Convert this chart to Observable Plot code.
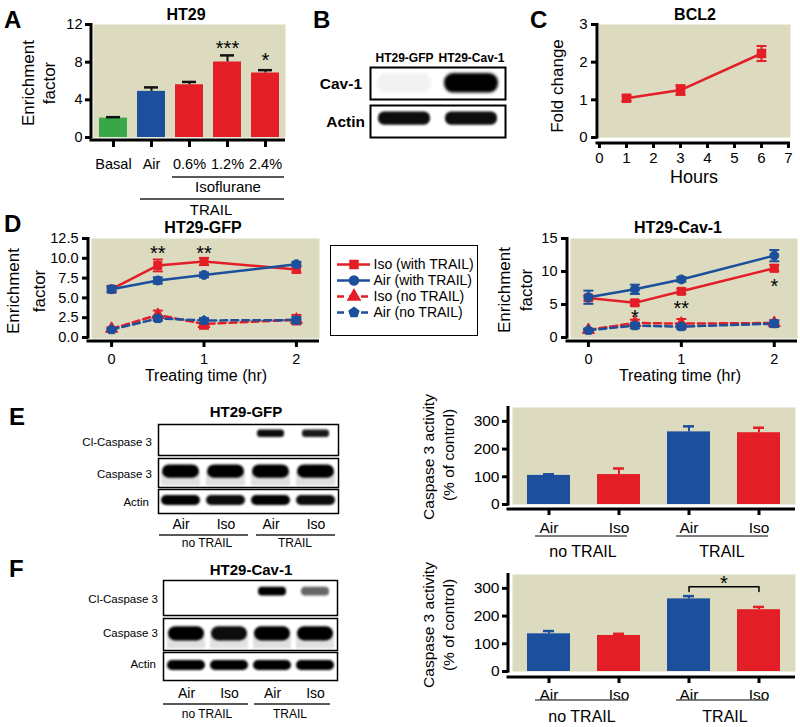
<!DOCTYPE html>
<html><head><meta charset="utf-8">
<script src="https://cdn.jsdelivr.net/npm/d3@7"></script>
<script src="https://cdn.jsdelivr.net/npm/@observablehq/plot@0.6"></script>
<style>
html,body{margin:0;padding:0;background:#fff;}
#fig{position:relative;width:800px;height:727px;overflow:hidden;background:#fff;}
#fig svg{position:absolute;}
</style></head><body><div id="fig"></div>
<script>
const FONT = '"Liberation Sans", Arial, Helvetica, sans-serif';
const BG = "#dcdbc0", RED = "#e31e26", BLUE = "#1c4f9c", GREEN = "#3aa64a";

// ---------- Panel A : HT29 enrichment factor
const aCategories = ["Basal", "Air", "0.6%", "1.2%", "2.4%"];
const aGroups = ["Basal", "Air", "Iso", "Iso", "Iso"];
const aValues = [2.06, 4.9, 5.6, 8.02, 6.85];
const aErrors = [0.1, 0.42, 0.3, 0.7, 0.3];
const aStarCats = ["1.2%", "2.4%"];
const aStarY = [9.98, 8.7];
const aStarText = ["***", "*"];
const aYTicks = [0, 4, 8, 12];

// ---------- Panel B : blot
const bLanes = ["HT29-GFP", "HT29-Cav-1"];
const bRows = ["Cav-1", "Actin"];
const bCav1 = [0.05, 1.0];
const bActin = [0.95, 0.95];

// ---------- Panel C : BCL2
const cHours = [1, 3, 6];
const cFold = [1.04, 1.26, 2.23];
const cErr = [0.07, 0.13, 0.2];
const cXTicks = [0, 1, 2, 3, 4, 5, 6, 7];
const cYTicks = [0, 1, 2, 3];

// ---------- Panel D
const dTimes = [0, 0.5, 1, 2];
const dSeriesNames = ["Iso (with TRAIL)", "Air (with TRAIL)", "Iso (no TRAIL)", "Air (no TRAIL)"];
const gfpIsoTrail = [6.1, 9.1, 9.6, 8.6];
const gfpIsoTrailErr = [0.3, 0.75, 0.45, 0.4];
const gfpAirTrail = [6.1, 7.2, 7.9, 9.25];
const gfpAirTrailErr = [0.4, 0.4, 0.3, 0.3];
const gfpIsoNo = [1.1, 2.85, 1.7, 2.25];
const gfpIsoNoErr = [0.2, 0.55, 0.6, 0.6];
const gfpAirNo = [1.0, 2.4, 2.15, 2.2];
const gfpAirNoErr = [0.15, 0.3, 0.3, 0.4];
const gfpStarT = [0.5, 1];
const gfpStarY = [11.2, 11.2];
const gfpStarText = ["**", "**"];
const gfpYTicks = [0, 2.5, 5, 7.5, 10, 12.5];

const cavIsoTrail = [6.0, 5.25, 7.0, 10.5];
const cavIsoTrailErr = [0.4, 0.4, 0.4, 0.5];
const cavAirTrail = [6.1, 7.3, 8.8, 12.4];
const cavAirTrailErr = [1.0, 0.7, 0.35, 0.85];
const cavIsoNo = [1.15, 2.2, 2.1, 2.2];
const cavIsoNoErr = [0.2, 0.5, 0.7, 0.4];
const cavAirNo = [1.1, 1.8, 1.65, 2.1];
const cavAirNoErr = [0.2, 0.4, 0.4, 0.5];
const cavStarT = [0.5, 1, 2];
const cavStarY = [3.8, 5.15, 8.5];
const cavStarText = ["*", "**", "*"];
const cavYTicks = [0, 5, 10, 15];
const dXTicks = [0, 1, 2];

// ---------- Panels E / F
const eLanes = ["Air (no TRAIL)", "Iso (no TRAIL)", "Air (TRAIL)", "Iso (TRAIL)"];
const blotRowNames = ["Cl-Caspase 3", "Caspase 3", "Actin"];
const eCl = [0, 0, 0.95, 0.9];
const eCasp = [1, 1, 1, 1];
const eActin = [1, 0.95, 1, 0.95];
const fCl = [0, 0, 1, 0.6];
const fCasp = [1, 0.95, 1, 1];
const fActin = [1, 1, 1, 1];
const eActivity = [105, 108, 262, 259];
const eActivityErr = [4, 22, 20, 18];
const fActivity = [136, 130, 262, 223];
const fActivityErr = [10, 6, 10, 10];
const casYTicks = [0, 100, 200, 300];
const fBracketLanes = ["Air (TRAIL)", "Air (TRAIL)", "Iso (TRAIL)", "Iso (TRAIL)"];
const fBracketLevels = [289, 306, 306, 289];
const fStarY = [336];
const groupLabels = ["no TRAIL", "TRAIL"];

// ================= helpers
const fig = document.getElementById("fig");
function place(node, left, top) { node.style.left = left + "px"; node.style.top = top + "px"; fig.appendChild(node); return node; }
function st(size, extra = {}) { return Object.assign({fontFamily: FONT, fontSize: size + "px", color: "#000", background: "transparent", overflow: "visible"}, extra); }
const capSym = {draw(ctx, size) { const w = Math.sqrt(size / Math.PI); ctx.moveTo(-w, 0); ctx.lineTo(w, 0); }};
const pentSym = {draw(ctx, size) {
  const r = Math.sqrt(size / Math.PI) * 1.2;
  for (let i = 0; i < 5; i++) { const a = -Math.PI / 2 + i * 2 * Math.PI / 5; const x = r * Math.cos(a), y = r * Math.sin(a); if (i) ctx.lineTo(x, y); else ctx.moveTo(x, y); }
  ctx.closePath();
}};
const intFmt = d3.format("d");
// thick offset axis lines (GraphPad style)
function axisLines(inY, w = 3) {
  return (index, scales, values, dims) => {
    const {width, height, marginLeft, marginRight, marginTop, marginBottom} = dims;
    const g = d3.create("svg:g").attr("stroke", "#000").attr("stroke-width", w);
    const yb = height - marginBottom;
    g.append("line").attr("x1", marginLeft).attr("x2", marginLeft).attr("y1", marginTop - 1).attr("y2", yb - inY + 1.5);
    g.append("line").attr("x1", marginLeft - 1.5).attr("x2", width - marginRight).attr("y1", yb).attr("y2", yb);
    return g.node();
  };
}
const gasColor = k => (k.startsWith("Air") ? BLUE : k.startsWith("Basal") ? GREEN : RED);

// ================= Panel A
{
  const rows = aCategories.map((k, i) => ({k, g: aGroups[i], v: aValues[i], e: aErrors[i]}));
  const stars = aStarCats.map((k, i) => ({k, y: aStarY[i], s: aStarText[i]}));
  const inY = 3, inX = 3;
  const svg = Plot.plot({
    width: 290, height: 180, marginLeft: 91, marginRight: 5, marginTop: 24, marginBottom: 40,
    style: st(14.5),
    x: {domain: aCategories, paddingInner: 0.26, paddingOuter: 0.13, insetLeft: inX},
    y: {domain: [0, 12], insetBottom: inY},
    color: {type: "identity"},
    marks: [
      Plot.frame({fill: BG, stroke: null, insetLeft: 2, insetBottom: inY}),
      Plot.barY(rows, {x: "k", y: "v", fill: d => gasColor(d.g)}),
      Plot.ruleX(rows, {x: "k", y1: "v", y2: d => d.v + d.e, stroke: "#111", strokeWidth: 2}),
      Plot.tickY(rows, {x: "k", y: d => d.v + d.e, stroke: "#111", strokeWidth: 2.5, inset: 7}),
      Plot.text(stars, {x: "k", y: "y", text: "s", fontSize: 20, dy: 5}),
      Plot.axisY({ticks: aYTicks, tickFormat: intFmt, tickSize: 6, tickPadding: 3, strokeWidth: 3, label: null}),
      Plot.axisX({tickSize: 7, tickPadding: 11, strokeWidth: 3, label: null}),
      axisLines(inY)
    ]
  });
  place(svg, 0, 0);
}

// ================= blots
let uid = 0;
function blotRow({left, boxTop, boxH, width, lanes, levels, y1, y2, inset, rx = 5, blur = 1.2, mT = 0, mB = 0, axis = null, fontSize = 14, bold = false, wash = null, stroke = 1.5}) {
  const rows = lanes.map((k, i) => ({k, a: levels[i]}));
  const marks = [];
  if (wash) marks.push(Plot.barY(rows, {x: "k", y1: wash[0], y2: wash[1], fill: d => `rgba(0,0,0,${wash[2] * d.a})`, insetLeft: 1, insetRight: 1}));
  marks.push(Plot.barY(rows, {x: "k", y1, y2, fill: d => `rgba(0,0,0,${d.a})`, insetLeft: inset, insetRight: inset, rx}));
  marks.push(Plot.frame({stroke: "#000", strokeWidth: stroke}));
  if (axis) marks.push(Plot.axisX({anchor: axis.anchor, tickSize: 0, tickPadding: axis.pad, tickFormat: axis.fmt, label: null}));
  const svg = Plot.plot({
    width, height: boxH + mT + mB, marginLeft: 0, marginRight: 0, marginTop: mT, marginBottom: mB,
    style: st(fontSize, {fontWeight: bold ? "bold" : "normal"}),
    x: axis ? {domain: lanes, paddingInner: 0.08, paddingOuter: 0.04} : {domain: lanes, paddingInner: 0.08, paddingOuter: 0.04, axis: null},
    y: {domain: [0, 1], reverse: true, axis: null},
    color: {type: "identity"},
    marks
  });
  const id = "blur" + (uid++);
  const s = d3.select(svg);
  const f = s.insert("defs", ":first-child").append("filter").attr("id", id)
    .attr("x", "-50%").attr("y", "-100%").attr("width", "200%").attr("height", "300%");
  f.append("feGaussianBlur").attr("stdDeviation", blur);
  s.selectAll('g[aria-label="bar"]').attr("filter", `url(#${id})`);
  place(svg, left, boxTop - mT);
}
// Panel B
blotRow({left: 370, width: 135, boxTop: 67, boxH: 32, lanes: bLanes, levels: bCav1, y1: 0.19, y2: 0.8, inset: 4, rx: 9, blur: 1.5, mT: 22, stroke: 2,
  axis: {anchor: "top", pad: 6, fmt: d => d}, fontSize: 12, bold: true});
blotRow({left: 370, width: 135, boxTop: 105, boxH: 32, lanes: bLanes, levels: bActin, y1: 0.2, y2: 0.62, inset: 5, rx: 6, stroke: 2});
// Panel E blot
const laneFmt = d => d.split(" ")[0];
blotRow({left: 158, width: 180, boxTop: 424, boxH: 31, lanes: eLanes, levels: eCl, y1: 0.18, y2: 0.42, inset: 7, rx: 3, blur: 1});
blotRow({left: 158, width: 180, boxTop: 458, boxH: 29, lanes: eLanes, levels: eCasp, y1: 0.22, y2: 0.68, inset: 2, rx: 7, wash: [0.5, 0.95, 0.13]});
blotRow({left: 158, width: 180, boxTop: 489, boxH: 24, lanes: eLanes, levels: eActin, y1: 0.25, y2: 0.67, inset: 1, rx: 5, mB: 22, axis: {anchor: "bottom", pad: 6, fmt: laneFmt}});
// Panel F blot
blotRow({left: 163, width: 174, boxTop: 580, boxH: 35, lanes: eLanes, levels: fCl, y1: 0.19, y2: 0.44, inset: 6, rx: 4, blur: 1.1});
blotRow({left: 163, width: 174, boxTop: 618, boxH: 32, lanes: eLanes, levels: fCasp, y1: 0.26, y2: 0.7, inset: 2, rx: 7, wash: [0.55, 0.95, 0.12]});
blotRow({left: 163, width: 174, boxTop: 652, boxH: 28, lanes: eLanes, levels: fActin, y1: 0.29, y2: 0.64, inset: 1, rx: 5, mB: 22, axis: {anchor: "bottom", pad: 8, fmt: laneFmt}});

// ================= Panel C
{
  const rows = cHours.map((t, i) => ({t, v: cFold[i], e: cErr[i]}));
  const inY = 6;
  const svg = Plot.plot({
    width: 290, height: 200, marginLeft: 87, marginRight: 10, marginTop: 24, marginBottom: 57,
    style: st(15),
    x: {domain: [0, 7], insetLeft: 2, insetRight: 2},
    y: {domain: [0, 3], insetBottom: inY},
    marks: [
      Plot.frame({fill: BG, stroke: null, insetLeft: 1.5, insetBottom: inY}),
      Plot.line(rows, {x: "t", y: "v", stroke: RED, strokeWidth: 2.5}),
      Plot.ruleX(rows, {x: "t", y1: d => d.v - d.e, y2: d => d.v + d.e, stroke: RED, strokeWidth: 2}),
      Plot.dot(rows, {x: "t", y: d => d.v + d.e, symbol: capSym, r: 5, stroke: RED, strokeWidth: 2}),
      Plot.dot(rows, {x: "t", y: d => d.v - d.e, symbol: capSym, r: 5, stroke: RED, strokeWidth: 2}),
      Plot.dot(rows, {x: "t", y: "v", symbol: "square", r: 4.5, fill: RED, stroke: RED}),
      Plot.axisY({ticks: cYTicks, tickFormat: intFmt, tickSize: 6, tickPadding: 4, strokeWidth: 3, label: null}),
      Plot.axisX({ticks: cXTicks, tickFormat: intFmt, tickSize: 5, tickPadding: 4, strokeWidth: 3, label: null}),
      axisLines(inY)
    ]
  });
  place(svg, 510, 0);
}

// ================= Panel D
const seriesStyle = {
  "Iso (with TRAIL)": {color: RED, dash: null, symbol: "square", r: 4.5},
  "Air (with TRAIL)": {color: BLUE, dash: null, symbol: "circle", r: 4.5},
  "Iso (no TRAIL)": {color: RED, dash: "7,4", symbol: "triangle", r: 4.5},
  "Air (no TRAIL)": {color: BLUE, dash: "7,4", symbol: pentSym, r: 4.2}
};
function dPanel({left, mL, mR, xDomain, yDomain, yTicks, fmt, series, stars}) {
  const inY = 4;
  const marks = [Plot.frame({fill: BG, stroke: null, insetLeft: 3, insetBottom: 3})];
  for (const idx of [2, 3, 0, 1]) {
    const name = dSeriesNames[idx];
    const {color, dash, symbol, r} = seriesStyle[name];
    const [vals, errs] = series[idx];
    const rows = dTimes.map((t, i) => ({t, v: vals[i], e: errs[i]}));
    marks.push(
      Plot.line(rows, {x: "t", y: "v", stroke: color, strokeWidth: 2.5, ...(dash ? {strokeDasharray: dash} : {})}),
      Plot.ruleX(rows, {x: "t", y1: d => d.v - d.e, y2: d => d.v + d.e, stroke: color, strokeWidth: 1.8}),
      Plot.dot(rows, {x: "t", y: d => d.v + d.e, symbol: capSym, r: 5, stroke: color, strokeWidth: 2}),
      Plot.dot(rows, {x: "t", y: d => d.v - d.e, symbol: capSym, r: 5, stroke: color, strokeWidth: 2}),
      Plot.dot(rows, {x: "t", y: "v", symbol, r, fill: color, stroke: color, strokeWidth: 1})
    );
  }
  marks.push(
    Plot.text(stars, {x: "t", y: "y", text: "s", fontSize: 20, dy: 5}),
    Plot.axisY({ticks: yTicks, tickFormat: fmt, tickSize: 6, tickPadding: 4, strokeWidth: 3, label: null}),
    Plot.axisX({ticks: dXTicks, tickFormat: intFmt, tickSize: 6, tickPadding: 6, strokeWidth: 3, label: null}),
    axisLines(inY)
  );
  const svg = Plot.plot({
    width: 330, height: 195, marginLeft: mL, marginRight: mR, marginTop: 43, marginBottom: 49,
    style: st(14.5),
    x: {domain: xDomain}, y: {domain: yDomain, insetBottom: inY},
    marks
  });
  place(svg, left, 195);
}
dPanel({left: 0, mL: 88, mR: 11, xDomain: [-0.25, 2.25], yDomain: [0, 12.5], yTicks: gfpYTicks, fmt: d3.format(".1f"),
  series: [[gfpIsoTrail, gfpIsoTrailErr], [gfpAirTrail, gfpAirTrailErr], [gfpIsoNo, gfpIsoNoErr], [gfpAirNo, gfpAirNoErr]],
  stars: gfpStarT.map((t, i) => ({t, y: gfpStarY[i], s: gfpStarText[i]}))});
dPanel({left: 470, mL: 97, mR: 3, xDomain: [-0.225, 2.25], yDomain: [0, 15], yTicks: cavYTicks, fmt: intFmt,
  series: [[cavIsoTrail, cavIsoTrailErr], [cavAirTrail, cavAirTrailErr], [cavIsoNo, cavIsoNoErr], [cavAirNo, cavAirNoErr]],
  stars: cavStarT.map((t, i) => ({t, y: cavStarY[i], s: cavStarText[i]}))});

// legend
{
  const marks = [Plot.frame({stroke: "#000", strokeWidth: 1})];
  for (const name of dSeriesNames) {
    const {color, dash, symbol, r} = seriesStyle[name];
    marks.push(
      Plot.ruleY([name], {y: d => d, x1: 0, x2: 1, stroke: color, strokeWidth: 2.5, ...(dash ? {strokeDasharray: "7,5"} : {})}),
      Plot.dot([name], {y: d => d, x: 0.5, symbol, r, fill: color, stroke: color})
    );
  }
  marks.push(Plot.text(dSeriesNames, {y: d => d, x: 1, text: d => d, textAnchor: "start", dx: 3, fontSize: 14}));
  const svg = Plot.plot({
    width: 147, height: 90, margin: 0, style: st(14),
    x: {domain: [0, 1], range: [7, 40], axis: null},
    y: {type: "point", domain: dSeriesNames, range: [18, 68], padding: 0, axis: null},
    marks
  });
  place(svg, 330, 245);
}

// ================= Panels E / F bar charts
function casPanel({top, height, mT, mB, inY, values, errors, extra = [], pad}) {
  const rows = eLanes.map((k, i) => ({k, v: values[i], e: errors[i]}));
  const svg = Plot.plot({
    width: 400, height, marginLeft: 108, marginRight: 5, marginTop: mT, marginBottom: mB,
    style: st(15.5),
    x: {domain: eLanes, paddingInner: 0.386, paddingOuter: 0.214, insetLeft: 4},
    y: {domain: [0, 350], insetBottom: inY},
    color: {type: "identity"},
    marks: [
      Plot.frame({fill: BG, stroke: null, insetLeft: 4, insetBottom: inY}),
      Plot.barY(rows, {x: "k", y: "v", fill: d => gasColor(d.k)}),
      Plot.ruleX(rows, {x: "k", y1: "v", y2: d => d.v + d.e, stroke: d => gasColor(d.k), strokeWidth: 2}),
      Plot.tickY(rows, {x: "k", y: d => d.v + d.e, stroke: d => gasColor(d.k), strokeWidth: 2.5, inset: 16}),
      ...extra,
      Plot.axisY({ticks: casYTicks, tickFormat: intFmt, tickSize: 6, tickPadding: 3, strokeWidth: 3, label: null}),
      Plot.axisX({tickSize: 6, tickPadding: pad, strokeWidth: 3, label: null, tickFormat: laneFmt}),
      axisLines(inY)
    ]
  });
  place(svg, 400, top);
}
casPanel({top: 375, height: 170, mT: 32, mB: 36, inY: 5, values: eActivity, errors: eActivityErr, pad: 6});
{
  const bracket = fBracketLanes.map((k, i) => ({k, y: fBracketLevels[i]}));
  const star = fStarY.map(y => ({k: fBracketLanes[0], y}));
  casPanel({top: 545, height: 160, mT: 29, mB: 28, inY: 6, values: fActivity, errors: fActivityErr, pad: 5,
    extra: [
      Plot.line(bracket, {x: "k", y: "y", stroke: "#000", strokeWidth: 1.5}),
      Plot.text(star, {x: "k", y: "y", text: () => "*", fontSize: 20, dy: 5, dx: 35})
    ]});
}

// ================= overlay text
const ov = d3.create("svg").attr("width", 800).attr("height", 727).attr("font-family", FONT)
  .style("left", "0px").style("top", "0px").style("overflow", "visible").style("pointer-events", "none");
function T(x, y, s, {size = 14, weight = "normal", anchor = "middle", rot = false} = {}) {
  const t = ov.append("text").attr("font-size", size).attr("font-weight", weight).attr("text-anchor", anchor).attr("fill", "#000").text(s);
  if (rot) t.attr("transform", `translate(${x},${y}) rotate(-90)`).attr("dominant-baseline", "central");
  else t.attr("x", x).attr("y", y);
}
function L(x1, y1, x2, y2, w = 1.3, c = "#333") {
  ov.append("line").attr("x1", x1).attr("y1", y1).attr("x2", x2).attr("y2", y2).attr("stroke", c).attr("stroke-width", w);
}
// panel letters
[["A", 4, 28], ["B", 313, 28], ["C", 530, 28], ["D", 4, 232], ["E", 9, 425], ["F", 9, 577]]
  .forEach(([s, x, y]) => T(x, y, s, {size: 24, weight: "bold", anchor: "start"}));
// titles
T(186, 20, "HT29", {size: 16, weight: "bold"});
T(695, 20, "BCL2", {size: 16, weight: "bold"});
T(203, 233, "HT29-GFP", {size: 16, weight: "bold"});
T(678, 233, "HT29-Cav-1", {size: 16, weight: "bold"});
T(246, 417, "HT29-GFP", {size: 15, weight: "bold"});
T(251, 575, "HT29-Cav-1", {size: 15, weight: "bold"});
// A annotations
L(172, 177, 284, 177, 1.4, "#222");
T(228, 192, "Isoflurane", {size: 15});
L(140, 199, 284, 199, 1.4, "#222");
T(211, 215, "TRAIL", {size: 15});
T(28, 83, "Enrichment", {size: 17, rot: true});
T(49, 83, "factor", {size: 17, rot: true});
// B labels
T(362, 89, bRows[0], {size: 15.5, weight: "bold", anchor: "end"});
T(365, 127, bRows[1], {size: 15.5, weight: "bold", anchor: "end"});
// C labels
T(557, 86, "Fold change", {size: 17, rot: true});
T(694, 183, "Hours", {size: 18});
// D labels
T(13, 291, "Enrichment", {size: 17, rot: true});
T(39, 291, "factor", {size: 17, rot: true});
T(206, 381, "Treating time (hr)", {size: 16});
T(504, 290, "Enrichment", {size: 17, rot: true});
T(526, 290, "factor", {size: 17, rot: true});
T(680, 381, "Treating time (hr)", {size: 16});
// E blot labels
T(152, 446, blotRowNames[0], {size: 11.5, anchor: "end"});
T(152, 478, blotRowNames[1], {size: 11.5, anchor: "end"});
T(149, 506, blotRowNames[2], {size: 11.5, anchor: "end"});
L(159, 535, 248, 535, 1.3, "#222"); L(256, 535, 335, 535, 1.3, "#222");
T(207, 547, groupLabels[0], {size: 12}); T(295, 547, groupLabels[1], {size: 12});
// F blot labels
T(158, 603, blotRowNames[0], {size: 11.5, anchor: "end"});
T(158, 637, blotRowNames[1], {size: 11.5, anchor: "end"});
T(156, 668, blotRowNames[2], {size: 11.5, anchor: "end"});
L(163, 704, 248, 704, 1.3, "#222"); L(254, 704, 330, 704, 1.3, "#222");
T(207, 718, groupLabels[0], {size: 12}); T(290, 718, groupLabels[1], {size: 12});
// E bar labels
T(428, 457, "Caspase 3 activity", {size: 15.5, rot: true});
T(448.5, 455, "(% of control)", {size: 15.5, rot: true});
L(535, 536, 627, 536, 1.3, "#555"); L(676, 536, 768, 536, 1.3, "#555");
T(583, 557, groupLabels[0], {size: 16}); T(722, 557, groupLabels[1], {size: 16});
// F bar labels
T(428, 625, "Caspase 3 activity", {size: 15.5, rot: true});
T(448.5, 625, "(% of control)", {size: 15.5, rot: true});
L(535, 700, 628, 700, 1.3, "#555"); L(676, 700, 768, 700, 1.3, "#555");
T(582, 722, groupLabels[0], {size: 16}); T(725, 722, groupLabels[1], {size: 16});
fig.appendChild(ov.node());
</script></body></html>
